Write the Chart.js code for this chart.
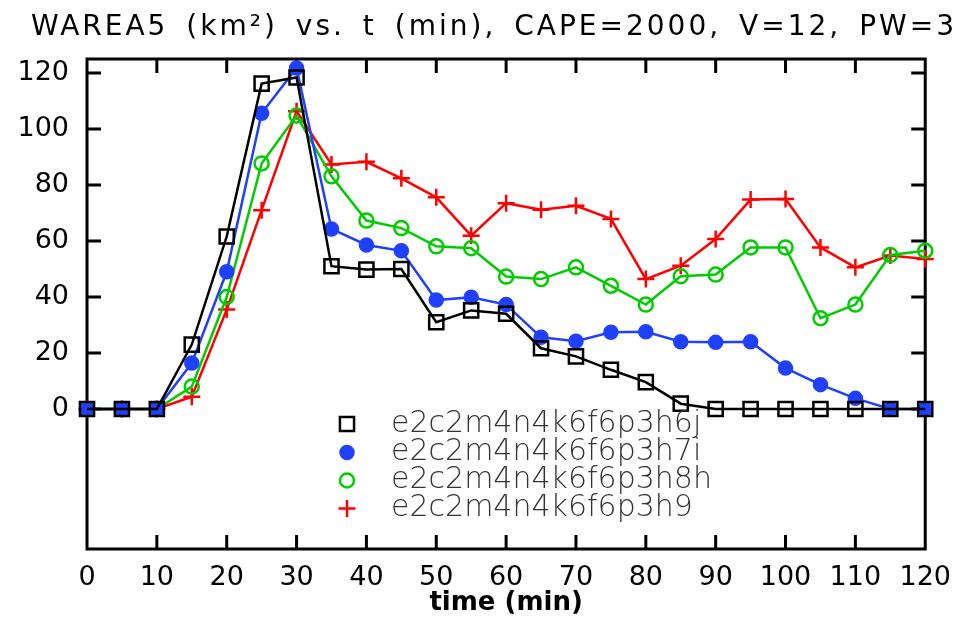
<!DOCTYPE html>
<html>
<head>
<meta charset="utf-8">
<script src="https://cdn.jsdelivr.net/npm/chart.js@4.4.0/dist/chart.umd.min.js"></script>
<style>
  html, body { margin: 0; padding: 0; background: #fff; }
  #wrap { width: 964px; height: 622px; }
</style>
</head>
<body>
<div id="wrap"><canvas id="chart" width="964" height="622"></canvas></div>
<script>
/* ---------- data ---------- */
const TIMES = [0, 5, 10, 15, 20, 25, 30, 35, 40, 45, 50, 55, 60, 65, 70, 75, 80, 85, 90, 95, 100, 105, 110, 115, 120];

const RUN_NAMES = ['e2c2m4n4k6f6p3h6j', 'e2c2m4n4k6f6p3h7i', 'e2c2m4n4k6f6p3h8h', 'e2c2m4n4k6f6p3h9'];

const H6J = [0, 0, 0, 23, 61.6, 116.2, 118.4, 51, 49.8, 50, 31, 35.2, 34, 21.7, 18.8, 14, 9.6, 1.9, 0, 0, 0, 0, 0, 0, 0];
const H7I = [0, 0, 0, 16.4, 49, 105.6, 121.8, 64.3, 58.6, 56.5, 38.9, 39.9, 37.3, 25.6, 24.2, 27.4, 27.6, 24, 23.8, 24, 14.6, 8.7, 3.8, 0, 0];
const H8H = [0, 0, 0, 8, 40, 87.7, 104.8, 83.1, 67.3, 64.6, 58.1, 57.4, 47.3, 46.4, 50.6, 44, 37.3, 47.4, 48, 57.7, 57.7, 32.4, 37.3, 55, 56.5];
const H9  = [0, 0, 0, 4.4, 35.5, 71, 106.3, 87.3, 88.3, 82.4, 75.6, 61.9, 73.5, 71.2, 72.6, 67.9, 46.4, 51.2, 60.7, 74.8, 75, 57.7, 50.6, 54.8, 53.6];

const X_TICKS = [0, 10, 20, 30, 40, 50, 60, 70, 80, 90, 100, 110, 120];
const Y_TICKS = [0, 20, 40, 60, 80, 100, 120];

const TITLE   = 'WAREA5 (km²) vs. t (min), CAPE=2000, V=12, PW=3';
const X_TITLE = 'time (min)';

/* ---------- styles ---------- */
const BLACK = '#000000';
const BLUE  = '#2040ff';
const GREEN = '#00cc00';
const RED   = '#ff0000';
const FONT  = "'DejaVu Sans', 'Liberation Sans', sans-serif";

function pairs(vals) {
  return TIMES.map((t, i) => ({ x: t, y: vals[i] }));
}

function series(label, vals, color, style, radius, fill) {
  return {
    label,
    data: pairs(vals),
    borderColor: color,
    borderWidth: 2.5,
    pointStyle: style,
    pointRadius: radius,
    pointHoverRadius: radius,
    pointBorderColor: color,
    pointBackgroundColor: fill,
    pointBorderWidth: 2.5,
    tension: 0,
    clip: false,
  };
}

// stretch text to a given width: some letter spacing, the rest between words
function fitText(ctx, text, x, y, width, letter) {
  ctx.letterSpacing = letter + 'px';
  ctx.wordSpacing = '0px';
  const w = ctx.measureText(text).width;
  const gaps = (text.match(/ /g) || []).length;
  if (gaps) ctx.wordSpacing = ((width - w) / gaps).toFixed(2) + 'px';
  ctx.fillText(text, x, y);
  ctx.letterSpacing = '0px';
  ctx.wordSpacing = '0px';
}

/* ---------- frame, inward ticks, title, legend ---------- */
const framePlugin = {
  id: 'frame',
  beforeDatasetsDraw(chart) {
    const { ctx, chartArea: a, scales: { x, y } } = chart;
    ctx.save();
    ctx.strokeStyle = '#000';
    ctx.lineWidth = 3;
    ctx.strokeRect(a.left, a.top, a.right - a.left, a.bottom - a.top);
    ctx.beginPath();
    X_TICKS.slice(1, -1).forEach(v => {
      const px = x.getPixelForValue(v);
      ctx.moveTo(px, a.bottom); ctx.lineTo(px, a.bottom - 14);
      ctx.moveTo(px, a.top);    ctx.lineTo(px, a.top + 14);
    });
    Y_TICKS.forEach(v => {
      const py = y.getPixelForValue(v);
      ctx.moveTo(a.left, py);  ctx.lineTo(a.left + 14, py);
      ctx.moveTo(a.right, py); ctx.lineTo(a.right - 14, py);
    });
    ctx.stroke();

    // title
    ctx.fillStyle = '#000';
    ctx.font = `28px ${FONT}`;
    ctx.textAlign = 'left';
    ctx.textBaseline = 'alphabetic';
    fitText(ctx, TITLE, 31, 35, 926, 3);
    ctx.restore();
  },
  afterDraw(chart) {
    const { ctx } = chart;
    const rows = [424, 452.5, 480.5, 508.5];
    ctx.save();
    chart.data.datasets.forEach((ds, i) => {
      const yy = rows[i];
      ctx.strokeStyle = ds.pointBorderColor;
      ctx.fillStyle = ds.pointBackgroundColor;
      ctx.lineWidth = 2.5;
      Chart.helpers.drawPoint(ctx, {
        pointStyle: ds.pointStyle,
        radius: ds.pointRadius,
        borderWidth: 2.5,
        rotation: 0,
      }, 347, yy);
      ctx.fillStyle = '#333';
      ctx.font = `200 30px ${FONT}`;
      ctx.textBaseline = 'middle';
      ctx.textAlign = 'left';
      ctx.fillText(ds.label, 391, yy);
    });
    ctx.restore();
  },
};

const ctx = document.getElementById('chart').getContext('2d');

new Chart(ctx, {
  type: 'line',
  data: {
    datasets: [
      series(RUN_NAMES[0], H6J, BLACK, 'rect', 10, 'rgba(0,0,0,0)'),
      series(RUN_NAMES[1], H7I, BLUE, 'circle', 6.5, BLUE),
      series(RUN_NAMES[2], H8H, GREEN, 'circle', 7, 'rgba(0,0,0,0)'),
      series(RUN_NAMES[3], H9, RED, 'cross', 8.5, RED),
    ],
  },
  options: {
    responsive: false,
    animation: false,
    devicePixelRatio: 1,
    layout: { padding: { left: 0, right: 36, top: 59, bottom: 0 } },
    plugins: {
      legend: { display: false },
      title: { display: false },
      tooltip: { enabled: false },
    },
    scales: {
      x: {
        type: 'linear',
        min: 0,
        max: 120,
        grid: { display: false, drawTicks: false },
        border: { display: false },
        afterBuildTicks: s => { s.ticks = X_TICKS.map(v => ({ value: v })); },
        afterFit: s => { s.height = 622 - 549; },
        ticks: {
          color: '#000',
          padding: 13,
          maxRotation: 0,
          autoSkip: false,
          font: { family: FONT, size: 27 },
        },
        title: {
          display: true,
          text: X_TITLE,
          color: '#000',
          padding: { top: 0, bottom: 3 },
          font: { family: FONT, size: 26, weight: 'bold' },
        },
      },
      y: {
        type: 'linear',
        min: -50,
        max: 125,
        grid: { display: false, drawTicks: false },
        border: { display: false },
        afterBuildTicks: s => { s.ticks = Y_TICKS.map(v => ({ value: v })); },
        afterFit: s => { s.width = 87; },
        ticks: {
          color: '#000',
          padding: 18,
          font: { family: FONT, size: 27 },
        },
      },
    },
  },
  plugins: [framePlugin],
});
</script>
</body>
</html>
